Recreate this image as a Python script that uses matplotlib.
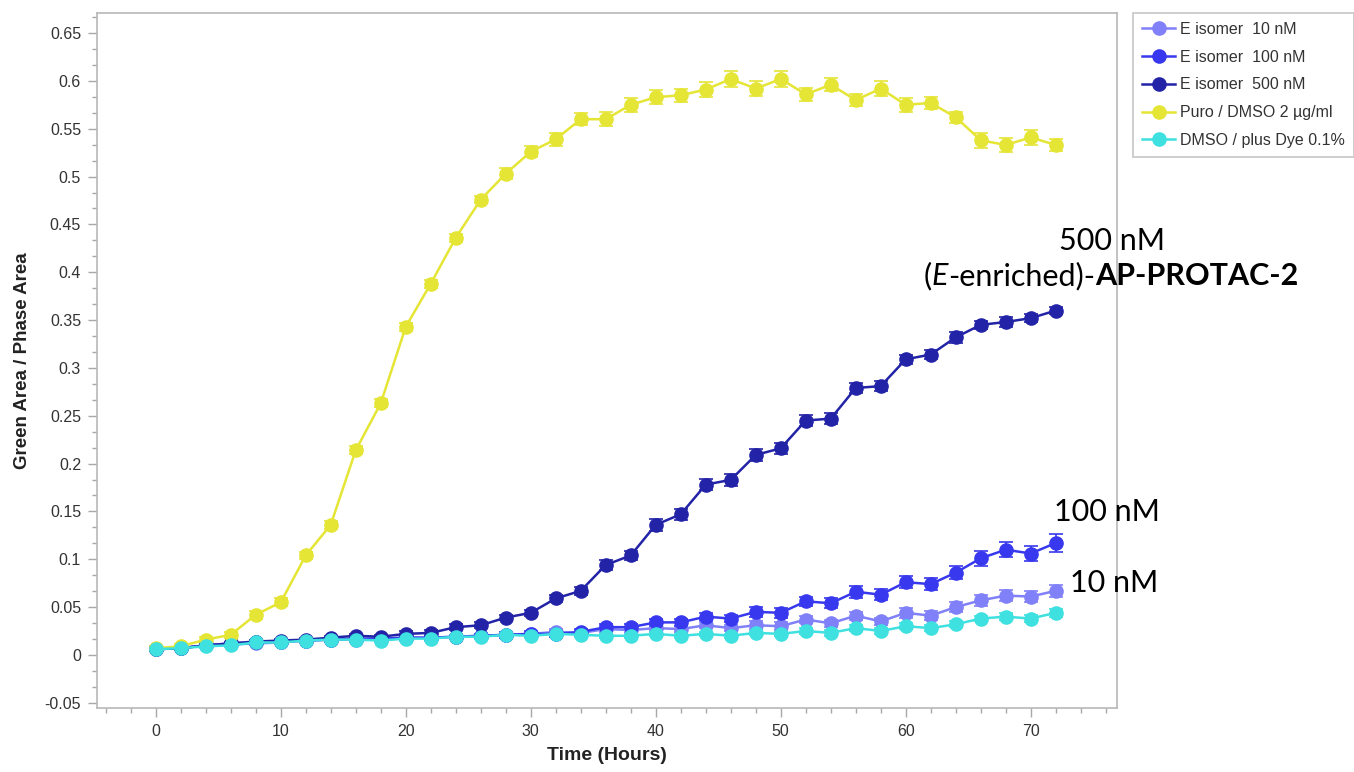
import matplotlib
matplotlib.use("Agg")
import matplotlib.pyplot as plt
from matplotlib.lines import Line2D
from matplotlib.ticker import MultipleLocator, FuncFormatter

# Sampling times (hours)
hours = [0, 2, 4, 6, 8, 10, 12, 14, 16, 18, 20, 22, 24, 26, 28, 30, 32, 34, 36,
         38, 40, 42, 44, 46, 48, 50, 52, 54, 56, 58, 60, 62, 64, 66, 68, 70, 72]

# Green area / phase area, mean per time point
e_10nm = [0.006, 0.007, 0.010, 0.011, 0.012, 0.013, 0.015, 0.016, 0.016, 0.017,
          0.018, 0.018, 0.019, 0.020, 0.021, 0.022, 0.024, 0.023, 0.027, 0.026,
          0.028, 0.027, 0.031, 0.028, 0.031, 0.030, 0.037, 0.033, 0.041, 0.035,
          0.044, 0.041, 0.050, 0.057, 0.062, 0.061, 0.067]
e_100nm = [0.006, 0.007, 0.010, 0.012, 0.013, 0.014, 0.015, 0.016, 0.017, 0.017,
           0.018, 0.018, 0.019, 0.020, 0.021, 0.022, 0.022, 0.024, 0.029, 0.029,
           0.034, 0.034, 0.040, 0.038, 0.045, 0.044, 0.056, 0.054, 0.066, 0.063,
           0.076, 0.074, 0.086, 0.101, 0.110, 0.106, 0.117]
e_500nm = [0.006, 0.007, 0.010, 0.012, 0.014, 0.015, 0.016, 0.018, 0.020, 0.019,
           0.022, 0.023, 0.029, 0.031, 0.039, 0.044, 0.059, 0.067, 0.094, 0.104,
           0.136, 0.147, 0.178, 0.183, 0.209, 0.216, 0.245, 0.247, 0.279, 0.281,
           0.309, 0.314, 0.332, 0.345, 0.348, 0.352, 0.360]
puro = [0.007, 0.009, 0.016, 0.021, 0.042, 0.055, 0.104, 0.136, 0.214, 0.263,
        0.343, 0.388, 0.436, 0.476, 0.503, 0.526, 0.539, 0.560, 0.560, 0.575,
        0.583, 0.585, 0.591, 0.602, 0.592, 0.602, 0.586, 0.596, 0.580, 0.592,
        0.575, 0.577, 0.562, 0.538, 0.533, 0.541, 0.533]
dmso = [0.006, 0.007, 0.009, 0.010, 0.013, 0.013, 0.015, 0.016, 0.016, 0.015,
        0.017, 0.017, 0.019, 0.019, 0.021, 0.020, 0.022, 0.021, 0.020, 0.020,
        0.022, 0.020, 0.022, 0.020, 0.023, 0.022, 0.025, 0.023, 0.028, 0.025,
        0.030, 0.028, 0.032, 0.038, 0.040, 0.038, 0.044]

# Standard error per time point
err_10nm = [0.002, 0.002, 0.002, 0.002, 0.002, 0.002, 0.002, 0.002, 0.002, 0.002,
            0.002, 0.002, 0.002, 0.002, 0.002, 0.002, 0.003, 0.003, 0.003, 0.003,
            0.003, 0.003, 0.003, 0.003, 0.004, 0.004, 0.004, 0.004, 0.004, 0.004,
            0.005, 0.005, 0.005, 0.006, 0.006, 0.006, 0.006]
err_100nm = [0.002, 0.002, 0.002, 0.002, 0.002, 0.002, 0.002, 0.002, 0.002, 0.002,
             0.002, 0.002, 0.002, 0.002, 0.003, 0.003, 0.003, 0.003, 0.003, 0.003,
             0.004, 0.004, 0.004, 0.004, 0.005, 0.005, 0.005, 0.005, 0.006, 0.006,
             0.006, 0.006, 0.007, 0.008, 0.008, 0.008, 0.009]
err_500nm = [0.002, 0.002, 0.002, 0.002, 0.002, 0.002, 0.002, 0.002, 0.002, 0.002,
             0.003, 0.003, 0.003, 0.003, 0.003, 0.003, 0.004, 0.004, 0.005, 0.005,
             0.006, 0.006, 0.006, 0.006, 0.006, 0.006, 0.006, 0.006, 0.005, 0.005,
             0.005, 0.005, 0.006, 0.004, 0.005, 0.004, 0.004]
err_puro = [0.002, 0.002, 0.003, 0.003, 0.004, 0.004, 0.004, 0.004, 0.004, 0.004,
            0.004, 0.004, 0.004, 0.004, 0.006, 0.006, 0.007, 0.006, 0.007, 0.007,
            0.007, 0.007, 0.008, 0.008, 0.008, 0.008, 0.007, 0.007, 0.006, 0.008,
            0.007, 0.006, 0.006, 0.008, 0.007, 0.008, 0.006]
err_dmso = [0.002, 0.002, 0.002, 0.002, 0.002, 0.002, 0.002, 0.002, 0.002, 0.002,
            0.002, 0.002, 0.002, 0.002, 0.002, 0.002, 0.002, 0.002, 0.002, 0.002,
            0.002, 0.002, 0.002, 0.002, 0.002, 0.002, 0.003, 0.003, 0.003, 0.003,
            0.003, 0.003, 0.003, 0.003, 0.004, 0.004, 0.004]

labels = ["E isomer  10 nM", "E isomer  100 nM", "E isomer  500 nM",
          "Puro / DMSO 2 \u00b5g/ml", "DMSO / plus Dye 0.1%"]
colors = ["#8080f8", "#3838ee", "#2323a8", "#e5e536", "#3ee0e0"]
series = [e_10nm, e_100nm, e_500nm, puro, dmso]
errors = [err_10nm, err_100nm, err_500nm, err_puro, err_dmso]

W, H = 1354, 772
fig = plt.figure(figsize=(W / 100, H / 100), dpi=100)
ax = fig.add_axes([97 / W, 1 - 708 / H, (1117 - 97) / W, (708 - 13) / H])

handles = []
for ys, es, col, lab in zip(series, errors, colors, labels):
    ax.errorbar(hours, ys, yerr=es, color=col, marker="o", markersize=9.5,
                markeredgecolor=col, linewidth=1.8, elinewidth=1.2,
                capsize=5, capthick=1.2)
    handles.append(Line2D([], [], color=col, marker="o", markersize=9.5,
                          markeredgecolor=col, linewidth=1.8, label=lab))


def tick_text(v, pos):
    if abs(v) < 1e-9:
        return "0"
    return ("%.2f" % v).rstrip("0").rstrip(".")


ax.set_xlim(-4.7, 76.9)
ax.set_ylim(-0.0555, 0.671)
ax.xaxis.set_major_locator(MultipleLocator(10))
ax.xaxis.set_minor_locator(MultipleLocator(2))
ax.yaxis.set_major_locator(MultipleLocator(0.05))
ax.yaxis.set_minor_locator(MultipleLocator(0.05 / 3))
ax.yaxis.set_major_formatter(FuncFormatter(tick_text))

for s in ax.spines.values():
    s.set_color("#b8b8b8")
    s.set_linewidth(1.2)
ax.tick_params(which="major", length=6.5, width=1, color="#a8a8a8",
               labelsize=11.5, labelcolor="#333333", pad=5)
ax.tick_params(which="minor", length=3.5, width=1, color="#a8a8a8")
for t in ax.get_xticklabels() + ax.get_yticklabels():
    t.set_family("Liberation Sans")

ax.set_xlabel("Time (Hours)", fontsize=14, fontweight="bold",
              family="Liberation Sans", color="#222222", labelpad=6)
ax.set_ylabel("Green Area / Phase Area", fontsize=13.5, fontweight="bold",
              family="Liberation Sans", color="#222222", labelpad=10)

leg = ax.legend(handles=handles, loc="upper left",
                bbox_to_anchor=(1133 / W, 1 - 13 / H),
                bbox_transform=fig.transFigure, numpoints=1, frameon=True,
                fancybox=False, borderpad=0.55, labelspacing=0.8,
                handlelength=2.1, handletextpad=0.3, borderaxespad=0,
                prop={"family": "Liberation Sans", "size": 11.5})
leg.get_frame().set_edgecolor("#b8b8b8")
leg.get_frame().set_linewidth(1.2)
for t in leg.get_texts():
    t.set_color("#333333")

# Concentration annotations beside the curves
note = {"family": "Lato", "size": 22, "color": "black"}
fig.text(1112 / W, 1 - 250 / H, "500 nM", ha="center", va="baseline", **note)
fig.text(1160 / W, 1 - 521 / H, "100 nM", ha="right", va="baseline", **note)
fig.text(1158 / W, 1 - 592 / H, "10 nM", ha="right", va="baseline", **note)

# Compound name with mixed styles, laid out piece by piece and centred
parts = [("(", "normal", "normal"), ("E", "italic", "normal"),
         ("-enriched)-", "normal", "normal"), ("AP-PROTAC-2", "normal", "bold")]
pieces = [fig.text(0, 1 - 285 / H, txt, style=sty, weight=wt, ha="left",
                   va="baseline", **note) for txt, sty, wt in parts]

fig.canvas.draw()
r = fig.canvas.get_renderer()
widths = [p.get_window_extent(r).width for p in pieces]
x = 1111 - sum(widths) / 2
for p, w in zip(pieces, widths):
    p.set_x(x / W)
    x += w

fig.savefig("out.png", dpi=100)
